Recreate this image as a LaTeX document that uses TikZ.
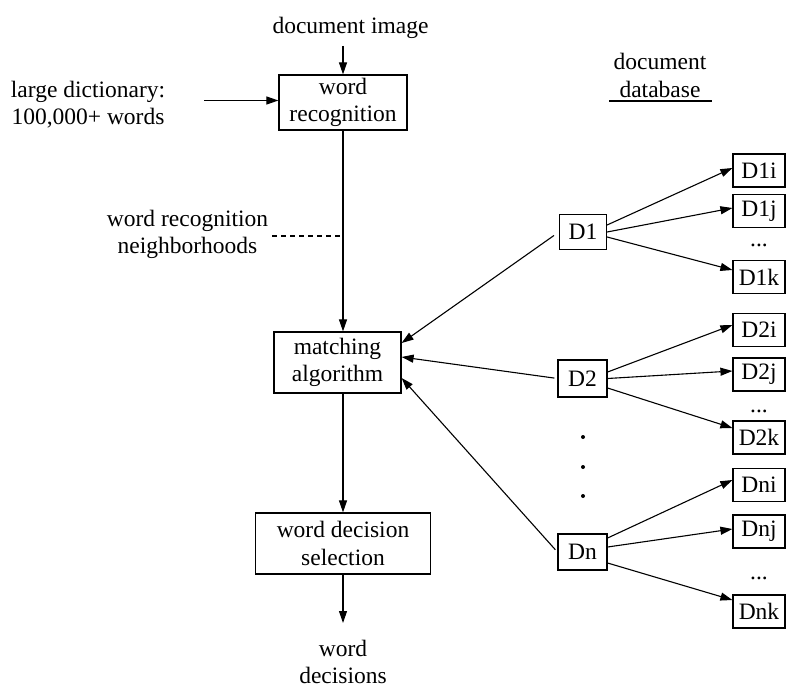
\documentclass[tikz,border=0pt]{standalone}
\usepackage{fontspec}
\setmainfont{Liberation Serif}
\usetikzlibrary{arrows.meta,calc}
\begin{document}
\begin{tikzpicture}[x=1pt,y=-1pt,
  every node/.style={font=\fontsize{23.5}{27.5}\selectfont, align=center, inner sep=0pt},
  box/.style={draw, line width=1.2pt},
  dbox/.style={draw, line width=1.2pt, minimum width=52pt, minimum height=33pt},
  arr/.style={line width=1.1pt, -{Triangle[length=12pt,width=8pt]}},
  ln/.style={line width=1.1pt},
  dotmark/.style={fill, circle, minimum size=4pt, inner sep=0pt}]
\useasboundingbox (0,0) rectangle (786,690);

% main column
\node (docimg) at (350.5,27.5) {document image};
\coordinate (docin) at (343,46);
\node[box, minimum width=128pt, minimum height=55pt] (wr) at (343,102.5) {word\\recognition};
\node (dict) at (88,104.5) {large dictionary:\\100,000+ words};
\coordinate (dictin) at (204,100.5);
\node (nb) at (187.5,234.5) {word recognition\\neighborhoods};
\coordinate (dashstart) at (272,236);
\node[box, minimum width=127pt, minimum height=61pt] (ma) at (337.5,362.5) {matching\\algorithm};
\node[box, minimum width=175pt, minimum height=61pt] (sel) at (343,543.5) {word decision\\selection};
\coordinate (out) at (343,623);
\node (dec) at (343,662) {word\\decisions};

% database
\node (ddb) at (660,75.5) {document\\database};
\coordinate (ulA) at (609,101);
\coordinate (ulB) at (712,101);
\draw[line width=1.1pt] (ulA) -- (ulB);

\node[box, minimum width=47pt, minimum height=35pt] (D1) at (583,232) {D1};
\node[box, minimum width=49pt, minimum height=37pt] (D2) at (582.5,378.5) {D2};
\node[box, minimum width=49pt, minimum height=36pt] (Dn) at (582.5,552) {Dn};

\node[dbox] (D1i) at (759,170.5) {D1i};
\node[dbox] (D1j) at (759,211) {D1j};
\node[anchor=base] (D1d) at (759,246) {...};
\node[dbox] (D1k) at (759,277) {D1k};

\node[dbox] (D2i) at (759,330) {D2i};
\node[dbox] (D2j) at (759,374.5) {D2j};
\node[anchor=base] (D2d) at (759,412) {...};
\node[dbox] (D2k) at (759,437.5) {D2k};

\node[dbox] (Dni) at (759,485) {Dni};
\node[dbox] (Dnj) at (759,531.5) {Dnj};
\node[anchor=base] (Dnd) at (759,579) {...};
\node[dbox] (Dnk) at (759,611.5) {Dnk};

\node[dotmark] (v1) at (583,437) {};
\node[dotmark] (v2) at (583,467) {};
\node[dotmark] (v3) at (583,496) {};

% connectors
\draw[arr] (docin) -- (wr.north);
\draw[arr] (dictin) -- (dictin -| wr.west);
\draw[arr] (wr.south) -- (wr.south |- ma.north);
\draw[ln, dash pattern=on 5pt off 4pt] (dashstart) -- (dashstart -| wr.south);
\draw[arr] (wr.south |- ma.south) -- (wr.south |- sel.north);
\draw[arr] (sel.south) -- (out);

\draw[arr, shorten <=6pt] (D1.west) -- ($(ma.east)+(0,-19.5)$);
\draw[arr, shorten <=3pt] (D2.west) -- ($(ma.east)+(0,-5.5)$);
\draw[arr, shorten <=3pt] (Dn.west) -- ($(ma.east)+(0,15.5)$);

\draw[arr] ($(D1.east)+(0,-7)$) -- ($(D1i.west)+(0,-2.5)$);
\draw[arr] (D1.east) -- ($(D1j.west)+(0,-3)$);
\draw[arr] ($(D1.east)+(0,5)$) -- ($(D1k.west)+(0,-7)$);

\draw[arr] ($(D2.east)+(0,-6.5)$) -- ($(D2i.west)+(0,-5)$);
\draw[arr] (D2.east) -- ($(D2j.west)+(0,-3.5)$);
\draw[arr] ($(D2.east)+(0,9.5)$) -- ($(D2k.west)+(0,-9.5)$);

\draw[arr] ($(Dn.east)+(0,-14)$) -- ($(Dni.west)+(0,-5)$);
\draw[arr] ($(Dn.east)+(0,-5)$) -- ($(Dnj.west)+(0,-2.5)$);
\draw[arr] ($(Dn.east)+(0,11)$) -- ($(Dnk.west)+(0,-11.5)$);
\end{tikzpicture}
\end{document}
